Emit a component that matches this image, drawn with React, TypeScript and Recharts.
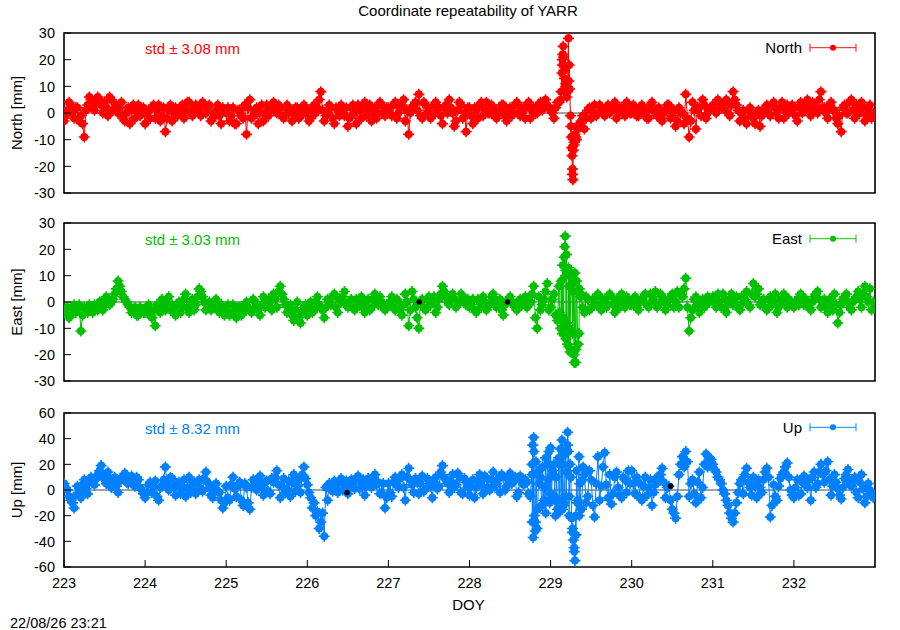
import { LineChart, Line, XAxis, YAxis, CartesianGrid, ReferenceArea, ReferenceDot } from "recharts";

// half-hourly solutions, DOY 223.00 .. 232.98
const FIRST_DOY = 223;
const SAMPLES_PER_DAY = 24;
const dayTicks = [223, 224, 225, 226, 227, 228, 229, 230, 231, 232];
const doyDomain: [number, number] = [223, 233];
const enTicks = [-30, -20, -10, 0, 10, 20, 30];
const upTicks = [-60, -40, -20, 0, 20, 40, 60];

// North, at hh:00
const northAtHour = [
  -3, 1, 3, -2, 2, -1, -9, 3, 5, 1, 6, 3, 4, -1, 5, 2, 0, 4, -3, 2, 1, -2, 3, 0, // 223
  -4, 1, 2, -2, 3, -1, -7, 1, -3, 2, 0, 3, 1, 4, -1, 3, 2, 4, 0, 3, -2, 1, -1, 2, // 224
  0, -3, 2, -4, 1, -2, -8, 5, -1, 2, 0, -3, 3, 1, 4, 0, 2, -2, 3, 1, 0, 2, -1, 3, // 225
  1, -2, 3, 2, 8, -3, 0, 2, -4, 1, 3, -1, -5, 2, 0, 3, -2, 4, 1, -3, 2, 0, 3, -1, // 226
  2, -1, 4, 0, 3, -3, -8, 2, 4, 7, -2, 3, 1, -1, 4, 2, -4, 3, 5, 0, -3, 4, -2, -7, // 227
  2, -4, 1, 3, -1, 4, 0, 2, -2, 1, 3, -3, 2, 0, 4, -1, 1, 3, -2, 2, 0, 4, 2, 3, // 228
  1, -2, 4, 5, 16, 8, -5, -12, -6, -3, -6, 1, -2, 3, 0, 2, -1, 3, 1, 4, 0, 2, -1, 3, // 229
  0, 2, -1, 3, 1, -2, 4, 0, 2, -3, 1, 3, -1, -5, 2, 0, 7, -9, 4, -6, 2, 5, -2, 1, // 230
  3, 0, 4, 2, 5, -1, 8, 3, -3, 1, -4, 2, -2, 0, -5, 1, 3, -1, 4, 0, 2, -2, 3, 1, // 231
  2, -3, 4, 1, 5, -1, 3, 0, 8, 2, -2, 4, 1, -4, -7, 3, 0, 5, -2, 2, 4, -3, 1, -2, // 232
];
// North, at hh:30
const northAtHalf = [
  -1, 4, 0, 2, -3, -4, 1, 6, 2, 4, 5, 0, 2, 6, 1, 3, 2, -2, 0, -4, 3, 1, -1, 2, // 223
  0, -2, 3, 1, -3, 2, -2, 3, 0, -1, 2, -2, 4, 0, 2, 1, -1, 3, 2, -3, 0, 3, -4, 1, // 224
  2, -1, -4, 1, -1, 3, 2, -2, 1, -4, 3, 0, -1, 2, 1, 3, -1, 2, 0, -3, 2, -2, 1, 0, // 225
  -3, 2, 0, 5, 1, -1, 3, -2, 2, -1, 0, 2, -2, 3, -4, 1, 2, -1, 3, 0, -2, 4, 0, 2, // 226
  0, 3, -2, 2, 5, 1, 0, 3, 1, -1, 4, 0, -2, 3, 1, -1, 2, 0, 2, -5, 1, 3, 0, 2, // 227
  -1, 2, -2, 4, 1, 0, 3, -1, 0, 3, -1, 1, -1, 3, 0, 2, -2, 4, 1, 0, 3, 1, 5, 2, // 228
  0, 2, 4, 20, 11, 18, -23, -9, -4, -1, -2, 2, 0, -1, 3, 1, 2, 0, 3, -2, 2, 1, 4, 0, // 229
  3, -1, 2, 0, -2, 3, 1, -1, -2, 0, 3, -2, 1, -3, 0, -4, -2, -3, 1, 2, -1, 3, 0, 2, // 230
  1, 5, 2, 4, 0, 3, 5, 1, 0, -2, 1, -1, -4, 1, -1, 2, 0, 3, 2, -2, 4, 1, 0, 3, // 231
  -1, 2, 0, 3, 2, 4, 1, 5, 2, 0, 3, 1, -2, -1, 2, 0, 4, 1, 3, 0, 2, -1, 3, 0, // 232
];
const northBurstDoy = [229.13, 229.14, 229.145, 229.15, 229.155, 229.16, 229.17, 229.19, 229.2, 229.22, 229.225, 229.235, 229.245, 229.255, 229.26, 229.265, 229.27, 229.275, 229.28, 229.29, 229.3, 229.32, 229.34];
const northBurstMm = [8, 15, 18, 22, 25, 21, 13, 10, 6, 28, 12, 9, -1, -9, -13, -16, -21, -25, -14, -11, -8, -10, -5];

// East, at hh:00
const eastAtHour = [
  -4, -2, -5, -1, -3, -11, -2, -4, -3, -1, -3, 0, -1, 1, 0, 3, 8, 4, 1, -1, -4, -2, -5, -3, // 223
  -4, -1, -6, -9, -2, 1, -3, 2, -1, -5, 0, -2, 3, -4, 1, -1, 5, 2, -3, 0, -2, 1, -4, -2, // 224
  -3, -5, -1, -6, -2, -4, 0, -3, 1, -2, -5, 2, -1, 0, 3, -2, 6, 1, -4, -1, -7, 0, -8, -2, // 225
  -5, 0, -3, 2, -2, -6, 1, -1, 3, -4, 0, 4, -2, 1, -3, 0, 2, -4, 1, -2, 3, -1, 0, -3, // 226
  -1, 2, -3, 0, -5, 3, -9, 4, -2, -10, 1, -3, 2, 0, -4, 1, 6, 2, -1, 3, -2, 0, 2, -1, // 227
  -2, 1, -4, 0, 2, -3, -1, 3, -2, 1, -5, 0, 2, -1, -3, 1, 0, -2, 0, 6, -10, -3, 1, 7, // 228
  -2, 3, -7, -10, 17, -16, 11, -23, -12, 3, -4, 1, -2, 0, 3, -3, 1, -1, 2, -4, 0, 3, -2, 1, // 229
  -1, 2, -3, 1, 3, -2, 0, 4, -1, 2, -3, 1, 3, 0, -2, 2, 9, -11, -3, 2, -4, 1, -1, 0, // 230
  2, -2, 0, 3, -4, 1, -1, 2, -3, 0, 4, -2, 7, 3, -1, 1, -3, 2, 0, -4, 1, 3, -2, 0, // 231
  -2, 1, 3, -1, 0, -3, 2, 4, -2, 1, -4, 0, 3, -8, -1, 2, 0, -3, 1, 4, -2, 6, 0, -3, // 232
];
// East, at hh:30
const eastAtHalf = [
  -3, -6, -2, -4, -1, -5, -3, -1, -4, -2, 0, -3, 2, -1, 1, 5, 6, 2, 0, -2, -3, -5, -2, -4, // 223
  -2, -5, -3, -1, -4, -1, 0, -3, -2, -1, -4, 1, -2, 0, -3, 2, 4, 0, -1, -3, 0, -3, -1, -5, // 224
  -1, -4, -3, -2, -5, -1, -2, -4, 0, -3, -1, -2, 1, -3, 1, 4, 3, -1, -2, -5, -3, -6, -4, -1, // 225
  -2, -4, 0, -1, -3, -2, 0, 2, -2, 1, 2, -1, 0, -2, 1, -1, -2, 0, -3, 1, 0, 2, -2, -1, // 226
  0, -2, 1, -3, -1, 0, -3, 1, -6, 0, -2, 1, -1, 2, -2, 3, 4, 0, 2, 1, -1, 3, 0, 1, // 227
  -1, -3, 1, -2, 0, -1, 2, 0, -1, -3, -1, 1, 0, -2, 0, -1, 2, -1, 3, -6, 2, -1, 4, -3, // 228
  1, -5, 6, -12, 12, -10, 7, -18, 5, -2, 2, -3, 1, -1, 2, 0, -2, 3, -1, 1, -2, 0, 2, -1, // 229
  1, -2, 0, 2, -1, 3, 1, -2, 3, 0, -1, 2, -2, 4, 3, 5, -2, -6, 1, -1, 0, -2, 2, 1, // 230
  0, 3, -2, 1, -1, 3, 0, -2, 2, 1, -1, 3, 2, 5, 0, -2, 1, -1, 3, -2, 0, 2, 1, -1, // 231
  0, -1, 2, 1, -2, 0, 3, 1, 0, -2, 1, -3, -1, -4, 1, 3, -2, 0, 2, 1, 3, 2, 5, 0, // 232
];
const eastBurstDoy = [229.11, 229.13, 229.14, 229.15, 229.16, 229.175, 229.18, 229.185, 229.19, 229.195, 229.2, 229.22, 229.225, 229.23, 229.24, 229.26, 229.27, 229.28, 229.29, 229.3, 229.31, 229.32, 229.34, 229.35, 229.37];
const eastBurstMm = [-4, 8, -10, 14, -6, 21, 25, 10, -14, 18, -8, 13, -17, 6, -19, 9, -12, 4, -20, 11, -23, 8, -16, -12, 2];

// Up, at hh:00
const upAtHour = [
  5, 0, -8, -14, 3, -6, 8, -3, 10, 4, 12, 19, 8, 14, 2, 10, -2, 9, 13, 5, 11, 3, 8, 0, // 223
  -6, 4, -2, 7, -8, 3, 18, 0, 9, -4, 6, 1, -5, 10, 3, -3, 8, -1, 14, 2, -6, 5, -2, -14, // 224
  3, -8, 10, -5, 6, -12, 2, -15, 8, 0, 11, -4, 7, -3, 6, 15, -6, 9, 1, -5, 12, 3, -2, 18, // 225
  4, -6, -10, -17, -25, -36, -8, 3, 7, -2, 9, 4, -3, 8, 1, 11, 5, -4, 9, 2, 12, 6, -2, -14, // 226
  5, -5, 10, 2, 12, -8, 17, 4, 9, -3, 11, 1, 7, -6, 10, 3, 19, 8, -2, 12, 4, 10, -3, 6, // 227
  -4, 8, 2, 12, -3, 9, 0, 14, 5, -2, 10, 3, 13, 7, -5, 11, 4, 6, -5, 41, -30, 10, -8, 20, // 228
  -3, 20, -15, 25, -10, 35, 10, -48, -8, -15, 12, -5, 8, -21, 26, 3, 29, -6, -11, 10, 2, -6, 8, 15, // 229
  15, -3, 6, -8, 10, 2, -12, 4, 8, 17, -6, 3, -15, -22, 12, 26, 30, -5, 8, -10, 14, 2, 28, 25, // 230
  20, 14, 8, 0, -8, -18, -25, -10, 5, -3, 17, 2, 10, -6, 2, 8, 17, -21, 4, -8, 9, 14, 21, 0, // 231
  -6, 8, -3, 11, 2, -8, 14, 5, 20, 6, 22, -4, 12, 1, -7, 9, 16, 3, 10, -6, 12, -10, 5, -2, // 232
];
// Up, at hh:30
const upAtHalf = [
  2, -5, -10, -4, -2, 4, 1, 6, 7, 9, 15, 12, 5, 9, 6, 3, 7, 11, 6, 9, 4, 10, 2, -3, // 223
  -2, 6, 3, -5, 2, 8, 5, 10, 2, 4, -3, 8, 2, -2, 6, 5, 1, 9, 6, -4, 2, -1, -8, -10, // 224
  -6, 4, 1, 3, -8, 5, -10, 2, 4, 7, 2, 6, -1, 9, 10, 4, 3, -2, 7, 6, -1, 8, 12, 9, // 225
  -2, -14, -20, -30, -18, 2, 5, -1, 4, 6, 0, 7, 2, 5, 9, 1, 8, 3, 6, 10, 4, -3, 5, -6, // 226
  -2, 6, 4, 9, 2, 10, 8, -2, 6, 5, -1, 9, 3, 6, 1, 14, 10, 5, 7, 2, 13, -2, 9, 2, // 227
  3, -6, 7, 4, 11, 2, 8, 3, 9, 12, 0, 8, 5, 10, -2, 6, 8, -3, 20, -25, 15, -12, 25, -8, // 228
  12, -8, 20, -15, 30, -20, -30, -35, -20, 8, -10, 15, -12, 5, -8, 18, 4, 12, -3, 14, -4, 10, -2, 5, // 229
  5, 10, -6, 3, -4, 8, -2, 10, 12, 6, 2, -8, -18, -5, 20, 18, 22, 5, -3, 6, -6, 20, 18, 24, // 230
  16, 10, 5, -3, -12, -22, -18, -2, 8, 12, 6, -4, 3, 8, -2, 14, 10, -12, -5, 3, 12, 18, 10, -4, // 231
  2, -4, 6, 4, 8, 10, 2, 14, 12, 15, 8, 3, 6, -4, 2, 12, 5, 8, -2, 6, 1, -5, 0, -6, // 232
];
const upBurstDoy = [228.77, 228.775, 228.78, 228.785, 228.795, 228.8, 228.81, 228.82, 228.84, 228.86, 228.89, 228.9, 228.93, 228.94, 228.97, 228.98, 228.99, 229.0, 229.01, 229.03, 229.05, 229.06, 229.07, 229.09, 229.1, 229.11, 229.12, 229.13, 229.14, 229.15, 229.16, 229.18, 229.19, 229.2, 229.21, 229.22, 229.23, 229.24, 229.26, 229.27, 229.28, 229.29, 229.3, 229.31, 229.32, 229.33, 229.35, 229.36, 229.38, 229.4];
const upBurstMm = [12, -25, 35, -37, 30, -20, -32, 22, -15, 5, -12, 18, 2, -18, 8, 30, -10, 33, -6, 15, -5, -20, 10, -10, 25, -17, 32, -8, 39, 20, -12, 28, -5, 14, 45, 30, -5, 20, -22, -33, -39, -45, -55, -20, 15, -10, 26, 5, -15, 18];

// reference (black) solutions that show through
const eastBlackDoy = [227.38, 228.47];
const eastBlackMm = [0, 0];
const upBlackDoy = [226.49, 230.48];
const upBlackMm = [-2, 3];

type Pt = { doy: number; mm: number };

function buildSeries(atHour: number[], atHalf: number[], burstDoy: number[], burstMm: number[]): Pt[] {
  const pts: Pt[] = [];
  atHour.forEach((mm, i) => pts.push({ doy: FIRST_DOY + i / SAMPLES_PER_DAY, mm }));
  atHalf.forEach((mm, i) => pts.push({ doy: FIRST_DOY + (i + 0.5) / SAMPLES_PER_DAY, mm }));
  burstDoy.forEach((d, i) => pts.push({ doy: d, mm: burstMm[i] }));
  return pts.sort((a, b) => a.doy - b.doy);
}

const FONT = '"Liberation Sans", Arial, Helvetica, sans-serif';

const panels = [
  {
    name: "North", color: "#ff0000", std: "3.08", data: buildSeries(northAtHour, northAtHalf, northBurstDoy, northBurstMm),
    domain: [-30, 30] as [number, number], ticks: enTicks, blackDoy: [] as number[], blackMm: [] as number[],
    top: 0, height: 200, margin: { top: 33, right: 25, bottom: 7, left: 8 }, textY: 54, keyY: 47.7, labelY: 113,
  },
  {
    name: "East", color: "#00c000", std: "3.03", data: buildSeries(eastAtHour, eastAtHalf, eastBurstDoy, eastBurstMm),
    domain: [-30, 30] as [number, number], ticks: enTicks, blackDoy: eastBlackDoy, blackMm: eastBlackMm,
    top: 200, height: 190, margin: { top: 23, right: 25, bottom: 9, left: 8 }, textY: 245, keyY: 238.7, labelY: 302,
  },
  {
    name: "Up", color: "#0080ff", std: "8.32", data: buildSeries(upAtHour, upAtHalf, upBurstDoy, upBurstMm),
    domain: [-60, 60] as [number, number], ticks: upTicks, blackDoy: upBlackDoy, blackMm: upBlackMm,
    top: 390, height: 240, margin: { top: 23, right: 25, bottom: 33, left: 8 }, textY: 434, keyY: 427.3, labelY: 490,
  },
];

const LeftTick = (p: any) => (
  <g>
    <line x1={p.x} y1={p.y} x2={p.x + 7} y2={p.y} stroke="#000" />
    <text x={p.x - 9} y={p.y} dy="0.36em" textAnchor="end" fontSize={14.5} fontFamily={FONT} fill="#000">
      {p.payload.value}
    </text>
  </g>
);
const RightTick = (p: any) => <line x1={p.x} y1={p.y} x2={p.x - 7} y2={p.y} stroke="#333" />;
const TopTick = (p: any) => <line x1={p.x} y1={p.y} x2={p.x} y2={p.y + 7} stroke="#333" />;
const BottomTick = (p: any) => (
  <g>
    <line x1={p.x} y1={p.y} x2={p.x} y2={p.y - 7} stroke="#000" />
    <text x={p.x} y={p.y + 21} textAnchor="middle" fontSize={14.5} fontFamily={FONT} fill="#000">
      {p.payload.value}
    </text>
  </g>
);

// gnuplot-style filled point with tiny error-bar cross
const makeMarker = (color: string) => (props: any) => {
  const { cx, cy, index } = props;
  if (cx == null || cy == null) return <g key={index} />;
  return (
    <g key={index}>
      <circle cx={cx} cy={cy} r={4} fill={color} />
      <path d={`M${cx - 5.5},${cy}H${cx + 5.5}M${cx},${cy - 5.5}V${cy + 5.5}`} stroke={color} strokeWidth={1.6} />
    </g>
  );
};

function Panel({ p, showX }: { p: (typeof panels)[number]; showX: boolean }) {
  return (
    <div style={{ position: "absolute", left: 0, top: p.top }}>
      <LineChart width={900} height={p.height} data={p.data} margin={p.margin}>
        <CartesianGrid horizontal vertical={false} horizontalValues={[0]} stroke="#444" />
        <XAxis
          dataKey="doy" type="number" domain={doyDomain} ticks={dayTicks} interval={0} allowDataOverflow
          hide={!showX} height={showX ? 30 : 0} tickSize={0} tickMargin={0} tickLine={false} axisLine={false} tick={BottomTick}
        />
        {showX && (
          <XAxis
            xAxisId="top" orientation="top" dataKey="doy" type="number" domain={doyDomain} ticks={dayTicks} interval={0}
            height={0} tickSize={0} tickMargin={0} tickLine={false} axisLine={false} tick={TopTick}
          />
        )}
        <YAxis
          type="number" domain={p.domain} ticks={p.ticks} interval={0} width={56}
          tickSize={0} tickMargin={0} tickLine={false} axisLine={false} tick={LeftTick}
        />
        <YAxis
          yAxisId="mirror" orientation="right" type="number" domain={p.domain} ticks={p.ticks} interval={0} width={0}
          tickSize={0} tickMargin={0} tickLine={false} axisLine={false} tick={RightTick}
        />
        <Line dataKey="mm" stroke={p.color} strokeWidth={1} dot={makeMarker(p.color)} activeDot={false} isAnimationActive={false} />
        {p.blackDoy.map((d, i) => (
          <ReferenceDot key={i} x={d} y={p.blackMm[i]} r={2.8} fill="#000" stroke="none" />
        ))}
        <ReferenceArea x1={doyDomain[0]} x2={doyDomain[1]} y1={p.domain[0]} y2={p.domain[1]} fill="none" stroke="#000" strokeWidth={1.6} />
      </LineChart>
    </div>
  );
}

export default function App() {
  return (
    <div style={{ position: "absolute", left: 0, top: 0, width: 900, height: 630, background: "#fff", fontFamily: FONT }}>
      {panels.map((p, i) => (
        <Panel key={p.name} p={p} showX={i === panels.length - 1} />
      ))}
      <svg width={900} height={630} style={{ position: "absolute", left: 0, top: 0, pointerEvents: "none" }} fontFamily={FONT}>
        <text x={468} y={16} textAnchor="middle" fontSize={15} fill="#000">Coordinate repeatability of YARR</text>
        {panels.map((p) => (
          <g key={p.name}>
            <text x={145} y={p.textY} fontSize={15} fill={p.color}>std ± {p.std} mm</text>
            <text x={802} y={p.textY - 1} textAnchor="end" fontSize={15} fill="#000">{p.name}</text>
            <g stroke={p.color} strokeOpacity={0.75} strokeWidth={1.3}>
              <line x1={810} y1={p.keyY} x2={856} y2={p.keyY} />
              <line x1={810} y1={p.keyY - 4} x2={810} y2={p.keyY + 4} />
              <line x1={856} y1={p.keyY - 4} x2={856} y2={p.keyY + 4} />
            </g>
            <circle cx={833} cy={p.keyY} r={3} fill={p.color} />
            <text x={22} y={p.labelY} textAnchor="middle" fontSize={15} fill="#000" transform={`rotate(-90 22 ${p.labelY})`}>
              {p.name} [mm]
            </text>
          </g>
        ))}
        <text x={468.5} y={610} textAnchor="middle" fontSize={15} fill="#000">DOY</text>
        <text x={10} y={628} fontSize={14.5} fill="#000">22/08/26 23:21</text>
      </svg>
    </div>
  );
}
